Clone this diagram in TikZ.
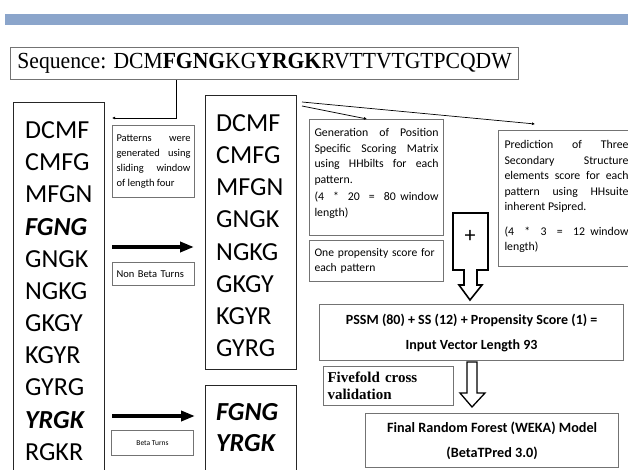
\documentclass[tikz,border=0pt]{standalone}
\usepackage{fontspec}
\setmainfont{Liberation Serif}
\newfontfamily\carlito{Carlito}
\usetikzlibrary{positioning,arrows.meta,calc}
\definecolor{barblue}{RGB}{139,165,203}
\definecolor{edgegray}{RGB}{115,115,115}
\hyphenpenalty=10000
\exhyphenpenalty=10000

\begin{document}
\begin{tikzpicture}[
    x=1pt, y=-1pt,
    seqbox/.style={draw=edgegray, line width=1.2pt, anchor=north west, minimum width=508, minimum height=32,
                   inner sep=2pt, font=\fontsize{23}{24}\selectfont},
    colbox/.style={draw=black!85, line width=1.2pt, anchor=north west, inner sep=0pt, minimum width=91},
    pat/.style={font=\carlito\fontsize{26}{28}\selectfont, anchor=west, inner sep=0pt},
    note/.style={draw=edgegray, line width=1pt, anchor=north west, align=justify, inner sep=4pt,
                 font=\carlito\fontsize{10.5}{15}\selectfont},
    sumbox/.style={draw=edgegray, line width=1.2pt, anchor=north west, align=center, inner sep=4pt,
                   font=\carlito\bfseries\fontsize{14}{25}\selectfont},
    thinarrow/.style={-{Latex[length=3pt, width=3pt]}, line width=0.7pt},
    fatarrow/.style={-{Triangle[length=14pt, width=10pt]}, line width=3.5pt},
    blockarrow/.style={draw, line width=1.6pt, fill=white, line join=miter},
]
\useasboundingbox (0,0) rectangle (628,470);
\clip (0,0) rectangle (628,470);

% Header bar and sequence
\fill[barblue] (5,14) rectangle (628,25);
\node[seqbox] (seq) at (10,47) {\scalebox{0.94}[1]{Sequence: DCM\textbf{FGNG}KG\textbf{YRGK}RVTTVTGTPCQDW}};

% All overlapping patterns
\node[colbox, minimum height=380] (allbox) at (13,102) {};
\foreach \p [count=\i from 0] in {DCMF, CMFG, MFGN, {\bfseries\itshape FGNG}, GNGK, NGKG,
                                  GKGY, KGYR, GYRG, {\bfseries\itshape YRGK}, RGKR} {
    \node[pat] (all\i) at (25, {130+32.2*\i}) {\p};
}

% Sliding window step
\coordinate (drop) at (176,118);
\coordinate (pattip) at (112,118);
\draw[thinarrow] (seq.south -| drop) -- (drop) -- (pattip);
\node[note, text width=74, minimum height=72] (slide) at (112,125)
    {Patterns were generated using sliding window of length four};

% Non beta turns
\node[colbox, minimum height=274] (nonbox) at (205,95) {};
\foreach \p [count=\i from 0] in {DCMF, CMFG, MFGN, GNGK, NGKG, GKGY, KGYR, GYRG} {
    \node[pat] (non\i) at (216, {123+32.2*\i}) {\p};
}
\coordinate (nonstart) at (112,247);
\coordinate (nontip) at (194,247);
\draw[fatarrow] (nonstart) -- (nontip);
\node[note, text width=74, align=left, minimum height=23] (nonlabel) at (112,262) {Non Beta Turns};

% Beta turns
\node[colbox, minimum height=100] (betabox) at (205,385) {};
\node[pat, font=\carlito\bfseries\itshape\fontsize{26}{28}\selectfont] (beta0) at (216,412) {FGNG};
\node[pat, font=\carlito\bfseries\itshape\fontsize{26}{28}\selectfont] (beta1) at (216,443) {YRGK};
\coordinate (betastart) at (112,416);
\coordinate (betatip) at (195,416);
\draw[fatarrow] (betastart) -- (betatip);
\node[note, minimum width=82, minimum height=25, align=center, font=\carlito\fontsize{7.5}{9}\selectfont]
    (betalabel) at (111,430) {Beta Turns};

% Features
\node[note, text width=124, inner sep=5pt, minimum height=116, font=\carlito\fontsize{11.8}{15.5}\selectfont]
    (pssm) at (309,119)
    {Generation of Position Specific Scoring Matrix using HHbilts for each pattern.\par\vspace{2pt}
     (4 \ * \ 20 \ = \ 80 window length)\par\vspace{8pt}\kern0pt};
\node[note, text width=124, inner sep=5pt, minimum height=41, align=left,
      font=\carlito\fontsize{11.6}{15.5}\selectfont] (prop) at (309,240)
    {One propensity score for each pattern};
\node[note, text width=124, inner sep=6pt, minimum height=136, font=\carlito\fontsize{11.8}{15.5}\selectfont]
    (pred) at (498,130)
    {Prediction of Three Secondary Structure elements score for each pattern using HHsuite inherent Psipred.\par\vspace{9pt}
     (4 \ * \ 3 \ = \ 12 window length)\par\vspace{4pt}\kern0pt};
\coordinate (fanA) at (302,102);
\coordinate (fanB) at (302,106);
\coordinate (pssmin) at (367,119);
\coordinate (predin) at (535,124);
\draw[thinarrow] (fanB) -- (pssmin);
\draw[thinarrow] (fanA) -- (predin);

% Combine
\draw[blockarrow] (453,213) -- (488,213) -- (488,270) -- (477,270) -- (477,285) -- (482,285)
    -- (470,300) -- (459,285) -- (464,285) -- (464,270) -- (453,270) -- cycle;
\node[font=\carlito\fontsize{22}{22}\selectfont, inner sep=0pt] (plus) at (470,236) {+};
\node[sumbox, minimum width=304, minimum height=56] (vec) at (319,304)
    {PSSM (80) + SS (12) + Propensity Score (1) =\\ Input Vector Length 93};

% Model
\draw[blockarrow, line width=1.3pt] (467,362) -- (477,362) -- (477,393) -- (485,393) -- (472,407)
    -- (460,393) -- (467,393) -- cycle;
\node[note, text width=122, minimum height=39, align=left, inner sep=4pt,
      font=\bfseries\fontsize{15}{17}\selectfont] (cv) at (323,366) {Fivefold cross\\ validation};
\node[sumbox, minimum width=253, minimum height=54, font=\carlito\bfseries\fontsize{14.2}{25}\selectfont] (model) at (365,413)
    {Final Random Forest (WEKA) Model\\ (BetaTPred 3.0)};
\end{tikzpicture}
\end{document}
